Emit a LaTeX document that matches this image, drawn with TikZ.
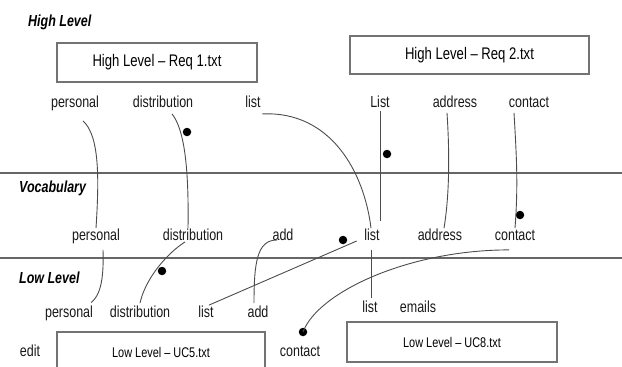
\documentclass[tikz,border=0pt]{standalone}
\usepackage{fontspec}
\setmainfont{Liberation Sans}[FakeStretch=0.78]
\usetikzlibrary{calc}
\tikzset{
  word/.style={inner sep=0.5pt, text height=11.2pt, text depth=3.2pt, font=\fontsize{16}{18}\selectfont, text=black!90},
  title/.style={anchor=west, inner sep=0pt, font=\fontsize{16}{18}\selectfont\bfseries\itshape},
  filebox/.style={draw=black!55, line width=1.3pt, inner sep=0pt, font=\fontsize{16.8}{19}\selectfont},
  smallbox/.style={filebox, font=\fontsize{14}{16}\selectfont},
  link/.style={draw=black!70, line width=0.9pt},
  level/.style={draw=black!60, line width=1.6pt},
  dot/.style={circle, fill=black, inner sep=0pt, minimum size=8.5pt},
}
\begin{document}
\begin{tikzpicture}[x=1pt, y=-1pt]
  \useasboundingbox (0,0) rectangle (622,367);
  \clip (0,0) rectangle (622,367);
  % levels
  \draw[level] (0,173) -- (622,173);
  \draw[level] (0,258) -- (622,258);
  \node[title] (tHigh) at (28,22) {High Level};
  \node[title] (tVoc) at (19,188) {Vocabulary};
  \node[title] (tLow) at (19,278) {Low Level};
  % files
  \node[filebox, minimum width=200pt, minimum height=39pt] (req1) at (157,62.5) {High Level – Req 1.txt};
  \node[filebox, minimum width=239pt, minimum height=38pt] (req2) at (469.5,55) {High Level – Req 2.txt};
  \node[smallbox, minimum width=208pt, minimum height=40pt] (uc5) at (161,352) {Low Level – UC5.txt};
  \node[smallbox, minimum width=210pt, minimum height=40pt] (uc8) at (452,342) {Low Level – UC8.txt};
  % high level words
  \node[word] (hPers) at (75,103) {personal};
  \node[word] (hDist) at (163,103) {distribution};
  \node[word] (hList) at (253,103) {list};
  \node[word] (hListB) at (380,103) {List};
  \node[word] (hAddr) at (455,103) {address};
  \node[word] (hCont) at (529,103) {contact};
  % vocabulary words
  \node[word] (vPers) at (96,236) {personal};
  \node[word] (vDist) at (193,236) {distribution};
  \node[word] (vAdd) at (283,236) {add};
  \node[word] (vList) at (372,236) {list};
  \node[word] (vAddr) at (440,236) {address};
  \node[word] (vCont) at (515,236) {contact};
  % low level words
  \node[word] (lPers) at (69,313) {personal};
  \node[word] (lDist) at (140,313) {distribution};
  \node[word] (lList) at (206,313) {list};
  \node[word] (lAdd) at (258,313) {add};
  \node[word] (lListB) at (370,308) {list};
  \node[word] (lMail) at (418,308) {emails};
  \node[word] (lEdit) at (30,352) {edit};
  \node[word] (lCont) at (300,352) {contact};
  % dots
  \node[dot] (d1) at (187,132) {};
  \node[dot] (d2) at (387,154) {};
  \node[dot] (d3) at (520,215) {};
  \node[dot] (d4) at (162,271) {};
  \node[dot] (d5) at (343,240) {};
  \node[dot] (d6) at (303,332) {};
  % high level to vocabulary
  \draw[link] ($(hPers.south)+(8,10)$) .. controls +(17,15) and +(3,-47) .. (vPers.north);
  \draw[link] ($(hDist.south)+(9,3)$) .. controls +(12,15) and +(1,-62) .. ($(vDist.north)+(-5,0)$);
  \draw[link] ($(hList.south east)+(1,3)$) .. controls +(68,-3) and +(-7,-57) .. ($(vList.north)+(-1,0)$);
  \draw[link] (hListB.south) -- ($(vList.north)+(8,-7)$);
  \draw[link] ($(hAddr.south)+(-8,2)$) .. controls +(3,45) and +(5,-30) .. ($(vAddr.north)+(4,0)$);
  \draw[link] ($(hCont.south)+(-15,2)$) .. controls +(3,50) and +(3,-40) .. (vCont.north);
  % vocabulary to low level
  \draw[link] ($(vPers.south)+(7,6)$) .. controls +(1,30) and +(9,-7) .. ($(lPers.north east)+(-2.5,-2.5)$);
  \draw[link] ($(vDist.south)+(-8,-2)$) .. controls +(-20,13) and +(5,-23) .. ($(lDist.north)+(0,-2)$);
  \draw[link] ($(vAdd.west)+(5,4)$) .. controls +(-20,0) and +(0,-40) .. ($(lAdd.north)+(-4,-2)$);
  \draw[link] ($(lList.north)+(3,0)$) -- ($(vList.west)+(-7,5)$);
  \draw[link] ($(vList.south)+(-1,6)$) -- ($(lListB.north)+(1,-2)$);
  \draw[link] ($(vCont.south)+(-6,6)$) .. controls +(-100,0) and +(15,-40) .. (d6.center);
\end{tikzpicture}
\end{document}
